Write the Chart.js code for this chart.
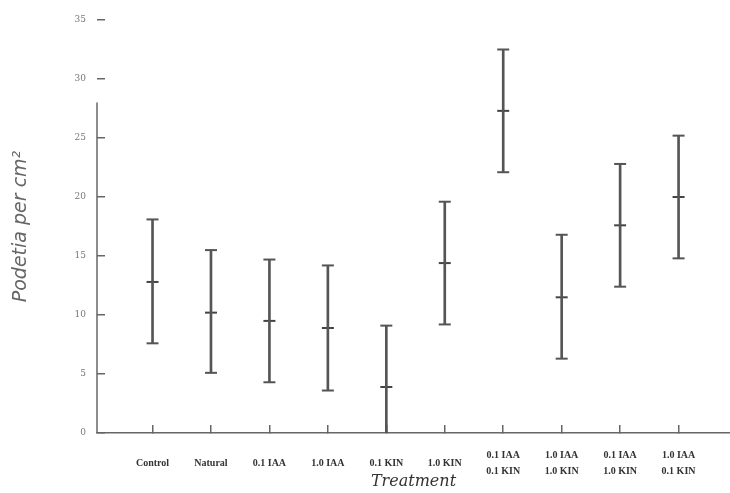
<!DOCTYPE html>
<html>
<head>
<meta charset="utf-8">
<script src="https://cdn.jsdelivr.net/npm/chart.js@4.4.1/dist/chart.umd.min.js"></script>
<style>
  body { margin: 0; background: #fff; }
  canvas { display: block; }
</style>
</head>
<body>
<canvas id="chart" width="730" height="493"></canvas>
<script>
const categories = ['Control', 'Natural', '0.1 IAA', '1.0 IAA', '0.1 KIN', '1.0 KIN',
    ['0.1 IAA', '0.1 KIN'], ['1.0 IAA', '1.0 KIN'], ['0.1 IAA', '1.0 KIN'], ['1.0 IAA', '0.1 KIN']];
const means = [12.8, 10.2, 9.5, 8.9, 3.9, 14.4, 27.3, 11.5, 17.6, 20.0];
const upper = [18.1, 15.5, 14.7, 14.2, 9.1, 19.6, 32.5, 16.8, 22.8, 25.2];
const lower = [7.6, 5.1, 4.3, 3.6, -1.3, 9.2, 22.1, 6.3, 12.4, 14.8];
const yMax = 35;
const yStep = 5;
// the scanned y axis line fades out above this value
const yAxisTop = 28;

const barColor = '#555';
const axisColor = '#666';

function points(values) {
    return values.map((v, i) => ({ x: i + 1, y: v }));
}

const yAxisLine = {
    id: 'yAxisLine',
    afterDraw(chart) {
        const { ctx, chartArea, scales: { y } } = chart;
        ctx.save();
        ctx.strokeStyle = axisColor;
        ctx.lineWidth = 1.5;
        ctx.beginPath();
        ctx.moveTo(chartArea.left, y.getPixelForValue(yAxisTop));
        ctx.lineTo(chartArea.left, y.getPixelForValue(0));
        ctx.stroke();
        ctx.restore();
    }
};

const capStyle = {
    type: 'line',
    showLine: false,
    pointStyle: 'line',
    pointRadius: 6,
    pointBorderWidth: 2,
    pointBorderColor: barColor,
    borderColor: barColor,
};

new Chart(document.getElementById('chart'), {
    type: 'bar',
    data: {
        datasets: [
            {
                type: 'bar',
                data: categories.map((c, i) => ({ x: i + 1, y: [lower[i], upper[i]] })),
                backgroundColor: barColor,
                barThickness: 2,
            },
            { ...capStyle, data: points(upper) },
            { ...capStyle, data: points(lower) },
            { ...capStyle, data: points(means), pointBorderColor: '#444' },
        ]
    },
    options: {
        responsive: false,
        animation: false,
        layout: { autoPadding: false, padding: { top: 20, right: 0, left: 0, bottom: 0 } },
        plugins: {
            legend: { display: false },
            tooltip: { enabled: false },
        },
        scales: {
            x: {
                type: 'linear',
                offset: false,
                min: 0.05,
                max: 10.88,
                afterBuildTicks: (axis) => {
                    axis.ticks = categories.map((c, i) => ({ value: i + 1 }));
                },
                afterFit: (axis) => {
                    axis.height = 60;
                    axis.paddingLeft = 0;
                    axis.paddingRight = 0;
                },
                grid: { offset: false, drawOnChartArea: false, tickLength: -8, color: axisColor, lineWidth: 1.5 },
                border: { color: axisColor, width: 1.5 },
                ticks: {
                    autoSkip: false,
                    maxRotation: 0,
                    padding: 30,
                    crossAlign: 'center',
                    color: '#333',
                    font: { family: 'Liberation Serif', size: 10, weight: 'bold', lineHeight: 1.6 },
                    callback: (v) => categories[v - 1],
                },
                title: {
                    display: true,
                    text: 'Treatment',
                    color: '#333',
                    font: { family: 'DejaVu Serif', size: 16, style: 'italic' },
                    padding: { top: 0, bottom: 2 },
                },
            },
            y: {
                min: 0,
                max: yMax,
                afterFit: (axis) => {
                    axis.width = 97;
                    axis.paddingTop = 0;
                    axis.paddingBottom = 0;
                },
                grid: { drawOnChartArea: false, tickLength: -8, color: axisColor, lineWidth: 1.5 },
                border: { display: false },
                ticks: {
                    stepSize: yStep,
                    padding: 19,
                    color: '#777',
                    font: { family: 'DejaVu Serif', size: 9 },
                },
                title: {
                    display: true,
                    text: 'Podetia per cm²',
                    color: '#666',
                    font: { family: 'DejaVu Sans', size: 19, style: 'italic' },
                    padding: { top: 10, bottom: 0 },
                },
            },
        },
    },
    plugins: [yAxisLine],
});
</script>
</body>
</html>
